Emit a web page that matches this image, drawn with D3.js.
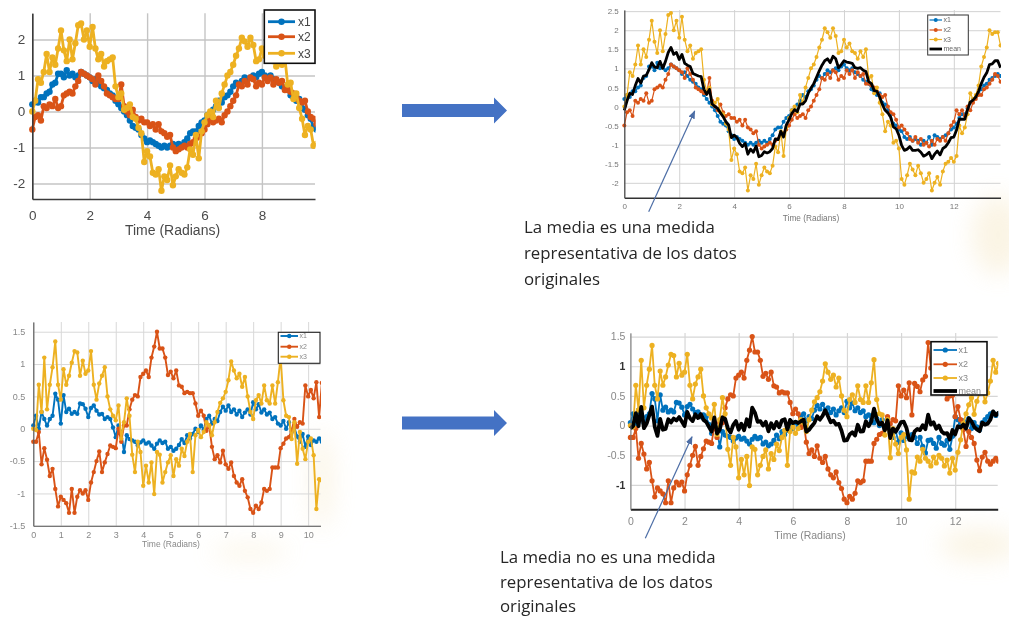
<!DOCTYPE html>
<html>
<head>
<meta charset="utf-8">
<script src="https://cdn.jsdelivr.net/npm/d3@7"></script>
<style>
  body { margin: 0; background: #ffffff; }
  svg { display: block; }
</style>
</head>
<body>
<svg id="c" width="1009" height="621"></svg>
<script>
// Sample times (radians), 0.0 .. 13.7 in steps of 0.1
const times = d3.range(138).map(i => i / 10);

// Upper example: three noisy sine-like signals that move together
const topX1 = [
  0.2, 0.3, 0.25, 0.4, 0.4, 0.5, 0.55, 0.75, 0.8, 1.05,
  1.05, 0.95, 1.15, 1.0, 1.05, 0.95, 1.0, 1.1, 1.05, 1.0,
  0.95, 0.85, 0.9, 0.8, 0.7, 0.65, 0.6, 0.5, 0.45, 0.3,
  0.2, 0.1, 0.0, -0.1, -0.25, -0.4, -0.45, -0.5, -0.65, -0.75,
  -0.85, -0.8, -0.85, -0.9, -0.95, -1.0, -0.95, -1.0, -0.95, -0.9,
  -0.95, -0.9, -0.95, -0.85, -0.75, -0.6, -0.55, -0.55, -0.4, -0.3,
  -0.25, -0.1, -0.05, 0.05, 0.15, 0.3, 0.25, 0.4, 0.45, 0.55,
  0.7, 0.8, 0.75, 0.85, 0.95, 0.9, 0.95, 1.0, 0.95, 1.05,
  1.1, 1.0, 0.95, 1.0, 0.9, 0.85, 0.8, 0.7, 0.65, 0.6,
  0.45, 0.4, 0.3, 0.35, 0.1, 0.05, -0.1, -0.2, -0.45, -0.5,
  -0.6, -0.65, -0.8, -0.85, -0.8, -0.9, -0.85, -0.9, -1.0, -0.9,
  -0.95, -0.8, -1.0, -0.75, -0.8, -0.85, -0.8, -0.75, -0.7, -0.6,
  -0.55, -0.45, -0.3, -0.2, -0.2, -0.05, 0.1, 0.2, 0.25, 0.35,
  0.45, 0.55, 0.6, 0.7, 0.75, 0.8, 0.85, 0.8
];
const topX2 = [
  -0.5, -0.15, -0.1, -0.25, 0.15, 0.1, 0.2, 0.15, 0.35, 0.1,
  0.15, 0.45, 0.5, 0.55, 0.5, 0.7, 0.85, 1.1, 1.05, 1.0,
  0.95, 0.9, 0.75, 1.0, 0.85, 0.7, 0.5, 0.45, 0.4, 0.35,
  0.35, 0.75, 0.15, 0.0, -0.1, 0.05, -0.15, -0.25, -0.2, -0.3,
  -0.3, -0.4, -0.35, -0.5, -0.35, -0.55, -0.6, -0.7, -0.65, -1.0,
  -1.1, -1.05, -1.0, -0.95, -1.0, -0.9, -0.85, -0.75, -0.7, -0.6,
  -0.5, -0.35, -0.2, -0.3, -0.25, -0.2, -0.3, -0.1, 0.0, 0.15,
  0.3, 0.45, 0.75, 0.7, 0.85, 0.75, 0.95, 0.9, 0.7, 0.8,
  0.75, 0.95, 0.85, 0.95, 0.75, 0.9, 0.8, 0.85, 0.6, 0.6,
  0.55, 0.5, 0.4, 0.3, 0.25, 0.3, 0.0, -0.15, -0.2, -0.35,
  -0.55, -0.5, -0.6, -0.7, -0.85, -0.9, -0.8, -0.95, -0.85, -1.0,
  -0.95, -1.05, -0.9, -1.0, -0.85, -0.9, -0.8, -0.9, -0.7, -0.5,
  -0.4, -0.1, -0.2, -0.1, -0.25, 0.0, -0.1, 0.1, 0.2, 0.3,
  0.3, 0.45, 0.5, 0.6, 0.7, 0.85, 0.8, 0.65
];
const topX3 = [
  0.0, 0.3, 0.9, 0.8, 1.1, 1.6, 1.1, 1.5, 1.3, 1.75,
  2.25, 1.7, 1.4, 2.0, 1.45, 1.9, 2.4, 2.45, 2.0, 2.25,
  1.8, 2.35, 1.75, 1.45, 1.6, 1.25, 1.4, 1.45, 1.5, 0.7,
  0.4, 0.5, 0.05, 0.1, 0.2, -0.15, -0.2, -0.45, -0.6, -1.4,
  -1.1, -1.25, -1.7, -1.75, -1.6, -2.2, -1.8, -1.9, -1.5, -2.05,
  -1.8, -1.6, -1.7, -1.75, -1.55, -1.05, -1.2, -0.65, -1.3, -0.55,
  -0.3, -0.1, 0.0, -0.15, 0.3, 0.1, 0.5, 0.75, 1.0, 1.1,
  1.3, 1.55, 1.75, 2.05, 1.95, 1.8, 2.05, 1.85, 1.4, 1.45,
  1.75, 1.55, 1.65, 1.45, 1.4, 1.25, 1.45, 1.3, 1.5, 0.75,
  0.8, 0.35, 0.5, 0.1, -0.2, -0.65, -0.4, -0.5, -0.95, -0.9,
  -1.1, -1.9, -2.05, -1.8, -1.5, -1.65, -1.8, -1.55, -1.75, -2.0,
  -1.9, -1.75, -2.2, -2.0, -1.85, -2.05, -1.7, -1.5, -1.45, -1.35,
  -1.45, -1.3, -0.5, -0.7, -0.55, -0.2, 0.35, 0.2, 0.3, 0.55,
  1.05, 1.3, 1.55, 2.0, 1.9, 1.95, 1.95, 1.6
];

// Lower example: three signals that cancel each other out on average
const botX1 = [
  0.05, 0.2, 0.0, 0.26, 0.15, 0.05, 0.15, 0.2, 0.54, 0.45,
  0.08, 0.52, 0.26, 0.31, 0.23, 0.26, 0.23, 0.39, 0.38, 0.31,
  0.18, 0.32, 0.36, 0.28, 0.22, 0.23, 0.15, 0.18, 0.15, 0.02,
  -0.13, 0.05, -0.05, -0.36, -0.1, -0.16, -0.18, -0.2, -0.26, -0.21,
  -0.18, -0.23, -0.21, -0.26, -0.31, -0.23, -0.18, -0.22, -0.2, -0.31,
  -0.28, -0.34, -0.31, -0.25, -0.16, -0.22, -0.1, -0.15, -0.08, 0.0,
  -0.05, 0.05, -0.02, 0.15, 0.2, 0.08, 0.15, 0.12, 0.26, 0.34,
  0.28, 0.36, 0.26, 0.3, 0.22, 0.28, 0.18, 0.25, 0.3, 0.22,
  0.41, 0.3, 0.38, 0.25, 0.3, 0.22, 0.25, 0.15, 0.18, 0.08,
  0.05, 0.12, 0.0, 0.1, -0.05, 0.02, -0.12, -0.2, -0.08, -0.28,
  -0.12, -0.25, -0.18, -0.2, -0.15, -0.2, -0.3, -0.2, -0.35, -0.46,
  -0.25, -0.24, -0.3, -0.38, -0.2, -0.3, -0.33, -0.25, -0.4, -0.18,
  0.15, 0.1, 0.04, 0.08, 0.0, 0.12, -0.05, 0.05, -0.02, -0.07,
  0.05, 0.1, 0.15, 0.2, 0.22, 0.17, 0.2, 0.18
];
const botX2 = [
  -0.2, -0.2, -0.05, -0.55, -0.3, -0.48, -0.73, -0.62, -0.93, -1.2,
  -1.05, -1.1, -1.15, -1.3, -0.93, -1.3, -1.05, -0.95, -1.0, -0.95,
  -1.1, -0.83, -0.67, -0.5, -0.35, -0.67, -0.52, -0.39, -0.26, -0.28,
  -0.3, 0.0, -0.2, 0.05, 0.05, 0.3, 0.45, 0.52, 0.5, 0.8,
  0.85, 0.9, 0.8, 1.1, 1.27, 1.5, 1.24, 1.24, 1.1, 0.83,
  0.88, 0.78, 0.9, 0.67, 0.65, 0.55, 0.57, 0.55, 0.55, 0.39,
  0.2, 0.28, 0.2, -0.03, 0.05, -0.28, -0.47, -0.41, -0.52, -0.34,
  -0.55, -0.62, -0.52, -0.73, -0.83, -0.88, -0.78, -0.96, -1.06, -1.24,
  -1.3, -1.19, -1.24, -1.14, -0.93, -0.96, -0.93, -0.6, -0.6, -0.6,
  -0.3, -0.23, -0.15, -0.13, -0.03, 0.15, 0.03, 0.1, 0.08, 0.67,
  0.5, 0.6, 0.47, 0.72, 0.18, 0.71, 0.66, 0.57, 0.77, 0.83,
  1.4, 0.97, 1.0, 0.85, 0.7, 0.55, 0.6, 0.45, 0.5, 0.51,
  0.15, 0.32, 0.1, -0.07, -0.35, -0.1, -0.2, -0.3, -0.58, -0.76,
  -0.53, -0.45, -0.6, -0.65, -0.6, -0.55, -0.6, -0.58
];
const botX3 = [
  0.0, -0.02, 0.68, 0.26, 1.1, 0.3, 0.68, 0.95, 1.35, 0.68,
  0.45, 0.92, 0.68, 0.82, 1.02, 1.2, 1.18, 0.82, 1.05, 0.85,
  0.9, 1.2, 0.68, 0.45, 0.7, 0.82, 0.95, 0.5, 0.3, 0.2,
  0.13, 0.36, -0.15, 0.1, 0.47, 0.2, -0.4, -0.67, -0.2, -0.36,
  -0.88, -0.57, -0.83, -0.52, -1.01, -0.36, -0.4, -0.83, -0.67, -0.52,
  -0.41, -0.73, -0.47, -0.57, -0.31, -0.42, -0.2, -0.08, -0.67, -0.1,
  -0.02, -0.13, -0.05, 0.1, 0.05, -0.1, 0.1, 0.26, 0.4, 0.47,
  0.57, 0.75, 1.04, 0.9, 0.78, 0.85, 0.65, 0.8, 0.5, 0.26,
  0.15, 0.44, 0.52, 0.39, 0.67, 0.44, 0.39, 0.67, 0.39, 0.72,
  1.11, 0.44, 0.2, 0.18, -0.16, 0.1, -0.54, -0.05, -0.31, -0.47,
  -0.2, -0.15, -0.41, -1.24, -0.78, -0.8, -0.53, -0.6, -0.4, -0.55,
  -0.6, -0.68, -0.53, -0.63, -0.5, -0.55, -0.68, -0.58, -0.8, -0.55,
  -0.75, -0.45, -0.24, 0.04, 0.2, 0.35, 0.47, 0.19, 0.41, 0.55,
  0.63, 0.4, 0.55, 0.75, 1.1, 0.9, 1.05, 0.88
];

const seriesNames = ["x1", "x2", "x3"];
const seriesColors = ["#0072BD", "#D95319", "#EDB120"];

const xTicksShort = [0, 2, 4, 6, 8];
const xTicksLong = [0, 2, 4, 6, 8, 10, 12];
const xTicksUnit = [0, 1, 2, 3, 4, 5, 6, 7, 8, 9, 10];
const yTicksWide = [-2, -1, 0, 1, 2];
const yTicksHalfWide = [-2, -1.5, -1, -0.5, 0, 0.5, 1, 1.5, 2, 2.5];
const yTicksHalfNarrow = [-1.5, -1, -0.5, 0, 0.5, 1, 1.5];
const yTicksHalfNarrowTop = [-1, -0.5, 0, 0.5, 1, 1.5];

const xAxisTitle = "Time (Radians)";
const meanName = "mean";
const noteTop = ["La media es una medida", "representativa de los datos", "originales"];
const noteBottom = ["La media no es una medida", "representativa de los datos", "originales"];

// Mean across the three signals at each sample time
const meanOf = (a, b, c) => a.map((v, i) => (v + b[i] + c[i]) / 3);
const topMean = meanOf(topX1, topX2, topX3);
const botMean = meanOf(botX1, botX2, botX3);

const topSeries = [topX1, topX2, topX3].map((v, i) => ({ name: seriesNames[i], color: seriesColors[i], values: v }));
const botSeries = [botX1, botX2, botX3].map((v, i) => ({ name: seriesNames[i], color: seriesColors[i], values: v }));

const AX_FONT = "'Liberation Sans', Arial, Helvetica, sans-serif";
const NOTE_FONT = "'Open Sans', 'Noto Sans', sans-serif";

const svg = d3.select("#c");
const defs = svg.append("defs");

defs.append("filter").attr("id", "soft").attr("x", "-5%").attr("y", "-5%").attr("width", "110%").attr("height", "110%")
  .append("feGaussianBlur").attr("stdDeviation", 0.45);
defs.append("filter").attr("id", "haze").attr("x", "-50%").attr("y", "-50%").attr("width", "200%").attr("height", "200%")
  .append("feGaussianBlur").attr("stdDeviation", 12);
defs.append("marker").attr("id", "tip").attr("viewBox", "0 0 10 10").attr("refX", 9).attr("refY", 5)
  .attr("markerWidth", 7).attr("markerHeight", 7).attr("orient", "auto-start-reverse")
  .append("path").attr("d", "M0,1 L10,5 L0,9 z").attr("fill", "#4d6ea6");

// faint warm background shapes of the slide template
const bg = svg.append("g").attr("filter", "url(#haze)").attr("opacity", 0.28);
[[998, 235, 26, 40], [980, 545, 40, 16], [322, 480, 10, 50], [250, 552, 40, 7]].forEach(([cx, cy, rx, ry]) => {
  bg.append("ellipse").attr("cx", cx).attr("cy", cy).attr("rx", rx).attr("ry", ry).attr("fill", "#f0d9a0");
});

const fmtTick = d => String(d);

function drawPanel(c) {
  const x = d3.scaleLinear().domain(c.xDomain).range([c.left, c.right]);
  const y = d3.scaleLinear().domain(c.yDomain).range([c.bottom, c.top]);
  const g = svg.append("g").attr("filter", "url(#soft)");
  const w = c.right - c.left, h = c.bottom - c.top;

  // grid
  g.append("g").attr("transform", `translate(0,${c.bottom})`)
    .call(d3.axisBottom(x).tickValues(c.xTicks).tickSize(-h).tickFormat(""))
    .call(a => a.select(".domain").remove())
    .selectAll("line").attr("stroke", c.grid.color).attr("stroke-width", c.grid.width);
  g.append("g").attr("transform", `translate(${c.left},0)`)
    .call(d3.axisLeft(y).tickValues(c.yTicks).tickSize(-w).tickFormat(""))
    .call(a => a.select(".domain").remove())
    .selectAll("line").attr("stroke", c.grid.color).attr("stroke-width", c.grid.width);

  // data
  const clipId = c.id + "-clip";
  defs.append("clipPath").attr("id", clipId).append("rect")
    .attr("x", c.left - 4).attr("y", c.top - 4).attr("width", w + 4.5).attr("height", h + 8);
  const plot = g.append("g").attr("clip-path", `url(#${clipId})`);
  const line = d3.line().x((d, i) => x(times[i])).y(d => y(d));
  c.series.forEach(s => {
    plot.append("path").datum(s.values).attr("d", line)
      .attr("fill", "none").attr("stroke", s.color).attr("stroke-width", c.lineWidth)
      .attr("stroke-linejoin", "round");
    plot.append("g").selectAll("circle").data(s.values).join("circle")
      .attr("cx", (d, i) => x(times[i])).attr("cy", d => y(d))
      .attr("r", c.markerR).attr("fill", s.color);
  });
  if (c.mean) {
    plot.append("path").datum(c.mean).attr("d", line)
      .attr("fill", "none").attr("stroke", "#000").attr("stroke-width", c.meanWidth)
      .attr("stroke-linejoin", "round");
  }

  // axes
  const xa = g.append("g").attr("transform", `translate(0,${c.bottom})`)
    .call(d3.axisBottom(x).tickValues(c.xTicks).tickSize(0).tickPadding(c.tick.xPad).tickFormat(fmtTick));
  xa.select(".domain").attr("stroke", c.axis.xColor).attr("stroke-width", c.axis.xWidth);
  xa.selectAll("text").attr("font-family", AX_FONT).attr("font-size", c.tick.size).attr("fill", c.tick.color);

  const ya = g.append("g").attr("transform", `translate(${c.left},0)`)
    .call(d3.axisLeft(y).tickValues(c.yTicks).tickSize(0).tickPadding(c.tick.yPad).tickFormat(fmtTick));
  ya.select(".domain").attr("stroke", c.axis.yColor).attr("stroke-width", c.axis.yWidth);
  ya.selectAll("text").attr("font-family", AX_FONT).attr("font-size", c.tick.size)
    .attr("fill", d => (c.strongTicks && c.strongTicks.includes(d)) ? "#333" : c.tick.color)
    .attr("font-weight", d => (c.strongTicks && c.strongTicks.includes(d)) ? "bold" : "normal");

  g.append("text").attr("x", c.xlabel.x).attr("y", c.xlabel.y).attr("text-anchor", "middle")
    .attr("font-family", AX_FONT).attr("font-size", c.xlabel.size).attr("fill", c.xlabel.color)
    .text(xAxisTitle);

  // legend
  const L = c.legend;
  g.append("rect").attr("x", L.x).attr("y", L.y).attr("width", L.w).attr("height", L.h)
    .attr("fill", "#fff").attr("stroke", L.stroke).attr("stroke-width", L.sw);
  const entries = c.series.map(s => ({ name: s.name, color: s.color, marker: true }));
  if (c.mean) entries.push({ name: meanName, color: "#000", marker: false });
  entries.forEach((e, i) => {
    const yy = L.rows[i];
    g.append("line").attr("x1", L.lx1).attr("x2", L.lx2).attr("y1", yy).attr("y2", yy)
      .attr("stroke", e.color).attr("stroke-width", e.marker ? c.lineWidth : c.meanWidth);
    if (e.marker) {
      g.append("circle").attr("cx", (L.lx1 + L.lx2) / 2).attr("cy", yy).attr("r", c.markerR).attr("fill", e.color);
    }
    g.append("text").attr("x", L.tx).attr("y", yy).attr("dy", "0.35em")
      .attr("font-family", AX_FONT).attr("font-size", L.size).attr("fill", L.color).text(e.name);
  });
}

// top-left: original signals
drawPanel({
  id: "pa", left: 32.3, right: 315, top: 13.3, bottom: 199,
  xDomain: [0, 9.85], yDomain: [-2.43, 2.73],
  xTicks: xTicksShort, yTicks: yTicksWide,
  series: topSeries, mean: null,
  lineWidth: 2.8, markerR: 3.2,
  grid: { color: "#c4c4c4", width: 1.4 },
  axis: { xColor: "#3a3a3a", xWidth: 1.6, yColor: "#3a3a3a", yWidth: 1.6 },
  tick: { size: 13.5, color: "#4a4a4a", xPad: 11, yPad: 7 },
  xlabel: { x: 172.5, y: 235, size: 14, color: "#4a4a4a" },
  legend: { x: 264.3, y: 10, w: 50.7, h: 53.3, stroke: "#111", sw: 1.6, rows: [21.7, 36.7, 53.3], lx1: 268, lx2: 295, tx: 298, size: 12, color: "#444" }
});

// top-right: same signals with their mean
drawPanel({
  id: "pb", left: 624.3, right: 1000.5, top: 10, bottom: 197.7,
  xDomain: [0, 13.7], yDomain: [-2.39, 2.53],
  xTicks: xTicksLong, yTicks: yTicksHalfWide,
  series: topSeries, mean: topMean,
  lineWidth: 1.2, markerR: 2, meanWidth: 2.8,
  grid: { color: "#d2d2d2", width: 1 },
  axis: { xColor: "#333", xWidth: 1.4, yColor: "#444", yWidth: 1.2 },
  tick: { size: 8, color: "#777", xPad: 5.5, yPad: 5.5 },
  xlabel: { x: 811, y: 221, size: 8.3, color: "#777" },
  legend: { x: 927.7, y: 15, w: 40.6, h: 40, stroke: "#333", sw: 1, rows: [20, 30, 39.5, 49], lx1: 929.5, lx2: 942, tx: 943.5, size: 7, color: "#666" }
});

// bottom-left: original signals
drawPanel({
  id: "pc", left: 33.3, right: 320.5, top: 322, bottom: 525.8,
  xDomain: [0, 10.45], yDomain: [-1.5, 1.65],
  xTicks: xTicksUnit, yTicks: yTicksHalfNarrow,
  series: botSeries, mean: null,
  lineWidth: 1.9, markerR: 2.2,
  grid: { color: "#d8d8d8", width: 1 },
  axis: { xColor: "#555", xWidth: 1.1, yColor: "#555", yWidth: 1.1 },
  tick: { size: 9, color: "#888", xPad: 5.8, yPad: 8 },
  xlabel: { x: 171, y: 547, size: 8.5, color: "#888" },
  legend: { x: 278.3, y: 332.3, w: 41.7, h: 31, stroke: "#222", sw: 1.1, rows: [336, 346.7, 356.7], lx1: 280.5, lx2: 298, tx: 299.5, size: 7, color: "#888" }
});

// bottom-right: same signals with their mean
drawPanel({
  id: "pd", left: 630.4, right: 997.7, top: 333, bottom: 509.3,
  xDomain: [0, 13.57], yDomain: [-1.41, 1.56],
  xTicks: xTicksLong, yTicks: yTicksHalfNarrowTop, strongTicks: [1, -1],
  series: botSeries, mean: botMean,
  lineWidth: 1.8, markerR: 2.6, meanWidth: 3.8,
  grid: { color: "#d6d6d6", width: 1.2 },
  axis: { xColor: "#222", xWidth: 2, yColor: "#777", yWidth: 1 },
  tick: { size: 10.5, color: "#888", xPad: 8, yPad: 5 },
  xlabel: { x: 810, y: 538.5, size: 10.5, color: "#888" },
  legend: { x: 931, y: 341.7, w: 56, h: 53.3, stroke: "#111", sw: 1.6, rows: [350, 364.3, 378, 391], lx1: 933.5, lx2: 957, tx: 958.5, size: 9, color: "#888" }
});

// block arrows between the panels
function blockArrow(cy) {
  const x0 = 402, x1 = 494, x2 = 507, hs = 6.5, hh = 13;
  svg.append("path")
    .attr("d", `M${x0},${cy - hs} L${x1},${cy - hs} L${x1},${cy - hh} L${x2},${cy} L${x1},${cy + hh} L${x1},${cy + hs} L${x0},${cy + hs} Z`)
    .attr("fill", "#4472C4");
}
blockArrow(110.5);
blockArrow(423);

// pointer lines from the notes to the mean curve
svg.append("line").attr("x1", 648.7).attr("y1", 211.7).attr("x2", 694.7).attr("y2", 111)
  .attr("stroke", "#4d6ea6").attr("stroke-width", 1.2).attr("marker-end", "url(#tip)");
svg.append("line").attr("x1", 645.3).attr("y1", 538.3).attr("x2", 692).attr("y2", 436.7)
  .attr("stroke", "#4d6ea6").attr("stroke-width", 1.2).attr("marker-end", "url(#tip)");

// notes
function note(lines, x, y0, step, size) {
  const t = svg.append("text").attr("font-family", NOTE_FONT).attr("font-size", size).attr("fill", "#262626");
  lines.forEach((s, i) => t.append("tspan").attr("x", x).attr("y", y0 + i * step).text(s));
  return t;
}
// size the note font so the first line spans its intended width
const probe = svg.append("text").attr("font-family", NOTE_FONT).attr("font-size", 16).text(noteTop[0]);
const noteSize = 16 * 191 / probe.node().getComputedTextLength();
probe.remove();
note(noteTop, 524, 233, 26, noteSize);
note(noteBottom, 500, 563, 24.5, noteSize);
</script>
</body>
</html>
